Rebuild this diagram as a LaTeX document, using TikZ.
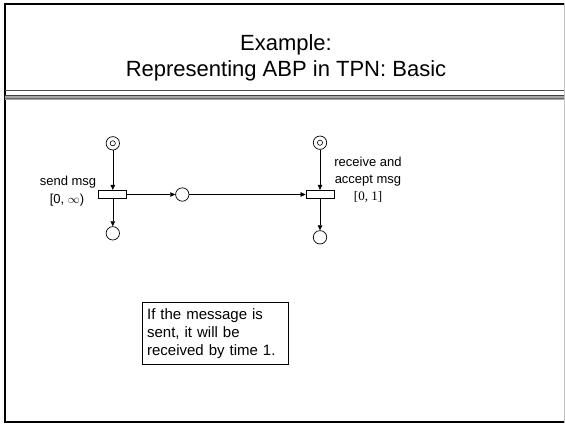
\documentclass[tikz,border=0pt]{standalone}
\usepackage{fontspec}
\setmainfont{Liberation Sans}
\newfontfamily\numserif{Liberation Serif}
\usetikzlibrary{arrows.meta}
\begin{document}
\begin{tikzpicture}[x=1pt,y=-1pt,
  place/.style={circle,draw,line width=0.7pt,minimum size=13.4pt,inner sep=0pt},
  trans/.style={rectangle,draw,line width=0.7pt,minimum width=28pt,minimum height=8.5pt,inner sep=0pt},
  arc/.style={-{Triangle[length=5pt,width=4.5pt]},line width=0.6pt},
  lbl/.style={font=\fontsize{13}{17}\selectfont,inner sep=0pt,anchor=base},
  ttl/.style={font=\fontsize{22}{26}\selectfont,inner sep=0pt,anchor=base}]
\useasboundingbox (0,0) rectangle (565,424);

% slide frame
\draw[line width=2pt] (564,4) -- (5,4) -- (5,422) -- (564,422);
\draw[black!25,line width=1pt] (564,3) -- (564,423);

% title
\node[ttl] (title1) at (286,50) {Example:};
\node[ttl] (title2) at (286,76) {Representing ABP in TPN: Basic};

% rule under the title
\draw[black!70,line width=0.8pt] (5,90) -- (564,90);
\fill[black!35] (5,95) rectangle (564,100);
\draw[black!75,line width=0.8pt] (5,95.6) -- (564,95.6);
\draw[black!60,line width=0.8pt] (5,98.8) -- (564,98.8);

% sender
\node[place] (sin) at (112.8,143.3) {};
\draw[line width=0.6pt] (sin.center) circle[radius=2.6pt];
\node[trans] (send) at (112.8,194.5) {};
\node[place] (sout) at (112.8,233.3) {};

% channel place
\node[place] (chan) at (182.3,194.5) {};

% receiver
\node[place] (rin) at (320,142.7) {};
\draw[line width=0.6pt] (rin.center) circle[radius=2.6pt];
\node[trans] (recv) at (320,194.5) {};
\node[place] (rout) at (320,237.3) {};

% arcs
\draw[arc] (sin) -- (send);
\draw[arc] (send) -- (sout);
\draw[arc] (send) -- (chan);
\draw[arc] (chan) -- (recv);
\draw[arc] (rin) -- (recv);
\draw[arc] (recv) -- (rout);

% transition labels
\node[lbl] (sendl1) at (68,185) {send msg};
\node[lbl] (sendl2) at (67,203) {[0, $\infty$)};
\node[lbl] (recvl1) at (368,166.7) {receive and};
\node[lbl] (recvl2) at (368,183.3) {accept msg};
\node[lbl] (recvl3) at (368,200) {\numserif [0, 1]};

% note
\node[draw,line width=0.8pt,anchor=north west,text width=136pt,minimum height=62.3pt,
  inner xsep=5pt,align=left,font=\fontsize{15}{18}\selectfont] (note) at (141.7,301.7)
  {If the message is\\sent, it will be\\received by time 1.};
\end{tikzpicture}
\end{document}
